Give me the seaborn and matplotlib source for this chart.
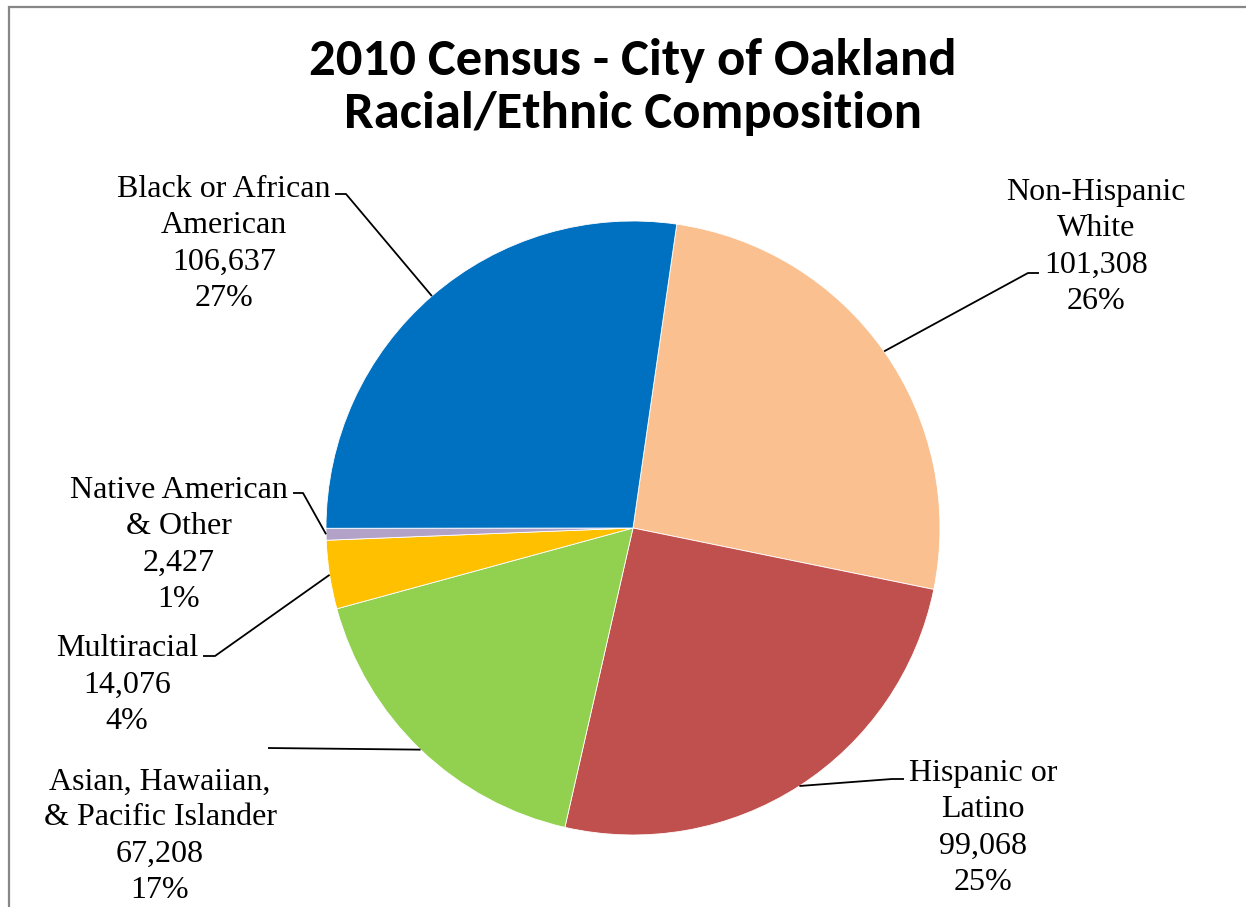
import numpy as np
import matplotlib
matplotlib.use("Agg")
import matplotlib.pyplot as plt
import seaborn as sns
from matplotlib.patches import Rectangle

# ---- data ----
categories = ["Non-Hispanic\nWhite", "Hispanic or\nLatino", "Asian, Hawaiian,\n& Pacific Islander",
              "Multiracial", "Native American\n& Other", "Black or African\nAmerican"]
values = [101308, 99068, 67208, 14076, 2427, 106637]
percent_labels = ["26%", "25%", "17%", "4%", "1%", "27%"]
colors = ["#FAC090", "#C0504D", "#92D050", "#FFC000", "#B3A2C7", "#0070C0"]
title = "2010 Census - City of Oakland\nRacial/Ethnic Composition"

# ---- layout (pixel space, y measured from top) ----
W, H = 1246, 907
center_px = (633, 528)
radius_px = 307
start_angle = 81.8
# label block centre, elbow, and end of short horizontal tick
label_pos = [(1096, 247), (983, 828), (160, 836), (127, 685), (179, 545), (224, 244)]
elbow_pos = [(1028, 273), (892, 779), (268, 748), (215, 656), (303, 493), (346, 194)]
tick_end = [(1039, 273), (904, 779), (268, 748), (203, 656), (293, 493), (335, 194)]

sns.set_theme(style="white")
plt.rcParams["font.family"] = ["Liberation Serif", "DejaVu Serif"]

fig = plt.figure(figsize=(W / 100, H / 100), dpi=100)
ax = fig.add_axes([0, 0, 1, 1])

def fy(y):
    return H - y

wedges, _ = ax.pie(values, colors=colors, startangle=start_angle, counterclock=False,
                   center=(center_px[0], fy(center_px[1])), radius=radius_px,
                   wedgeprops=dict(edgecolor="white", linewidth=0.6))
ax.set_xlim(0, W)
ax.set_ylim(0, H)
ax.set_aspect("equal")
ax.axis("off")

for i, w in enumerate(wedges):
    mid = np.deg2rad((w.theta1 + w.theta2) / 2)
    ex = center_px[0] + radius_px * np.cos(mid)
    ey = fy(center_px[1]) + radius_px * np.sin(mid)
    el, te = elbow_pos[i], tick_end[i]
    ax.plot([ex, el[0], te[0]], [ey, fy(el[1]), fy(te[1])], color="black", lw=1.3,
            solid_capstyle="butt")
    txt = f"{categories[i]}\n{values[i]:,}\n{percent_labels[i]}"
    lx, ly = label_pos[i]
    ax.text(lx, fy(ly), txt, ha="center", va="center", multialignment="center",
            fontsize=23, color="black", linespacing=1.32,
            family=["Liberation Serif", "DejaVu Serif"])

ax.text(633, fy(87), title, ha="center", va="center", fontsize=38, fontweight="bold",
        family=["Carlito", "Lato", "DejaVu Sans"], linespacing=1.24, color="black")

ax.add_patch(Rectangle((9, -50), W + 50, fy(7) + 50, fill=False, edgecolor="#878787",
                       lw=1.6, clip_on=False))

fig.savefig("out.png", dpi=100, facecolor="white")
